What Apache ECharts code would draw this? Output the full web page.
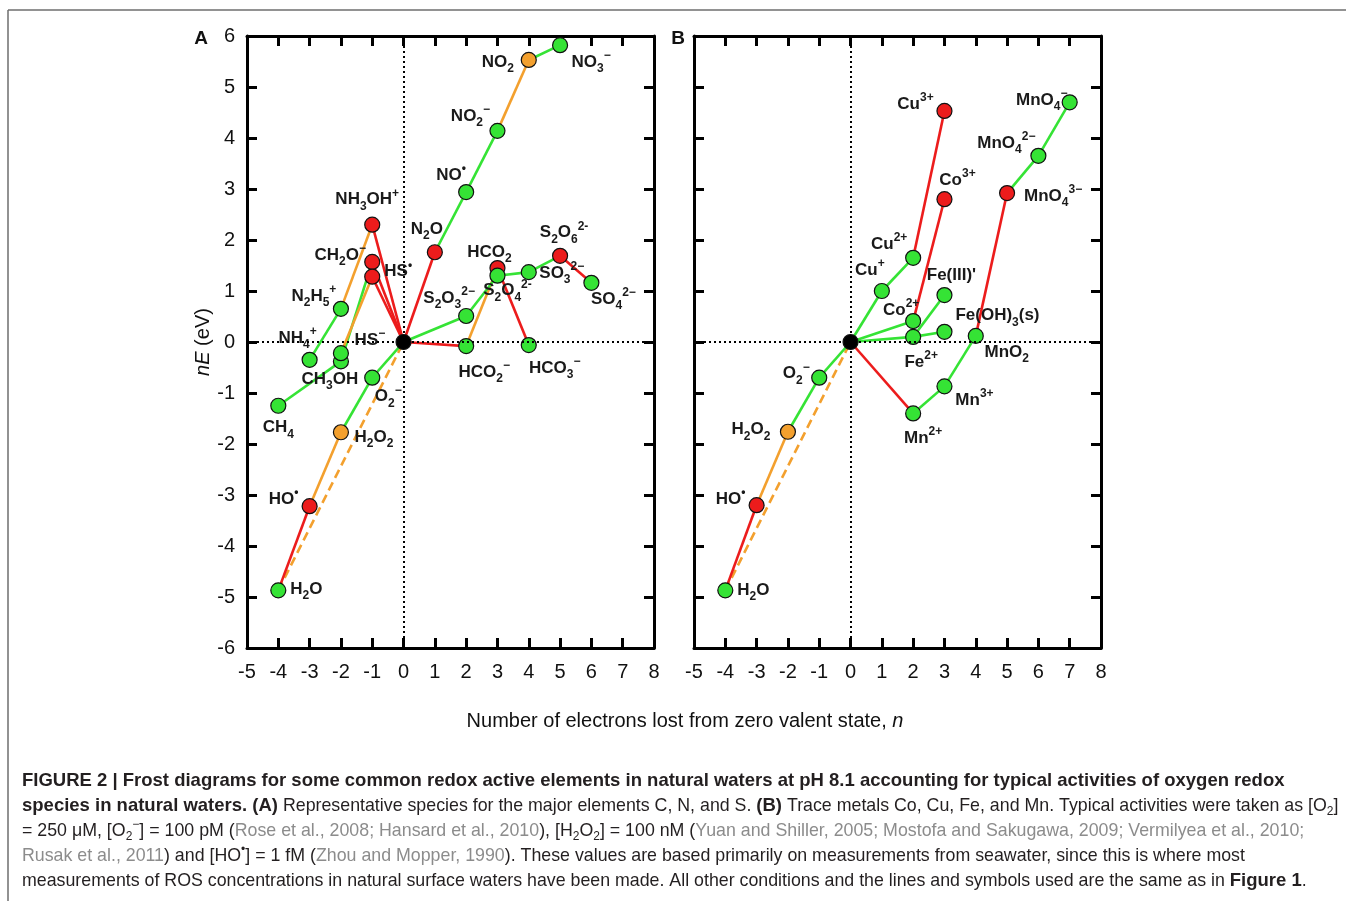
<!DOCTYPE html>
<html>
<head>
<meta charset="utf-8">
<script src="https://cdn.jsdelivr.net/npm/echarts@6/dist/echarts.min.js"></script>
<style>
html, body { margin: 0; padding: 0; background: #fff; }
#main { width: 1346px; height: 901px; }
</style>
</head>
<body>
<div id="main"></div>
<script>
var FONT = '"Liberation Sans", Arial, Helvetica, sans-serif';

// ---- panel A: C, N, S (and the O ladder) ----
var speciesA = ['0', 'CH4', 'CH3OH', 'HS-', 'NH4+', 'N2H5+', 'NH3OH+', 'CH2O-', 'HS.', 'O2-', 'H2O2', 'HO.', 'H2O',
    'N2O', 'NO.', 'NO2-', 'NO2', 'NO3-', 'S2O3', 'HCO2-', 'HCO2', 'S2O4', 'HCO3-', 'SO3', 'S2O6', 'SO4'];
var nA = [0, -4, -2, -2, -3, -2, -1, -1, -1, -1, -2, -3, -4,
    1, 2, 3, 4, 5, 2, 2, 3, 3, 4, 4, 5, 6];
var nEA = [0, -1.25, -0.38, -0.22, -0.35, 0.65, 2.30, 1.57, 1.28, -0.70, -1.77, -3.22, -4.87,
    1.76, 2.94, 4.14, 5.53, 5.82, 0.51, -0.08, 1.45, 1.30, -0.06, 1.37, 1.69, 1.16];
// dot kind: g green, r red, o orange, k origin
var dotA = ['k', 'g', 'g', 'g', 'g', 'g', 'r', 'r', 'r', 'g', 'o', 'r', 'g',
    'r', 'g', 'g', 'o', 'g', 'g', 'g', 'r', 'g', 'g', 'g', 'r', 'g'];
// [from, to, kind]  (d = dashed orange)
var linksA = [
    ['CH4', 'CH3OH', 'g'], ['CH3OH', 'CH2O-', 'g'], ['CH2O-', '0', 'r'], ['0', 'HCO2-', 'r'], ['HCO2-', 'HCO2', 'o'], ['HCO2', 'HCO3-', 'r'],
    ['NH4+', 'N2H5+', 'g'], ['N2H5+', 'NH3OH+', 'o'], ['NH3OH+', '0', 'r'], ['0', 'N2O', 'r'], ['N2O', 'NO.', 'g'], ['NO.', 'NO2-', 'g'], ['NO2-', 'NO2', 'o'], ['NO2', 'NO3-', 'g'],
    ['HS-', 'HS.', 'o'], ['HS.', '0', 'r'], ['0', 'S2O3', 'g'], ['S2O3', 'S2O4', 'g'], ['S2O4', 'SO3', 'g'], ['SO3', 'S2O6', 'g'], ['S2O6', 'SO4', 'r'],
    ['H2O', '0', 'd'], ['H2O', 'HO.', 'r'], ['HO.', 'H2O2', 'o'], ['H2O2', 'O2-', 'g'], ['O2-', '0', 'g']
];

// ---- panel B: Co, Cu, Fe, Mn (and the O ladder) ----
var speciesB = ['0', 'Cu+', 'Cu2+', 'Cu3+', 'Co2+', 'Co3+', 'Fe2+', 'Fe(III)', 'Fe(OH)3', 'Mn2+', 'Mn3+', 'MnO2',
    'MnO4_3', 'MnO4_2', 'MnO4-', 'O2-', 'H2O2', 'HO.', 'H2O'];
var nB = [0, 1, 2, 3, 2, 3, 2, 3, 3, 2, 3, 4, 5, 6, 7, -1, -2, -3, -4];
var nEB = [0, 1.00, 1.65, 4.53, 0.41, 2.80, 0.10, 0.92, 0.20, -1.40, -0.87, 0.12, 2.92, 3.65, 4.70, -0.70, -1.76, -3.20, -4.87];
var dotB = ['k', 'g', 'g', 'r', 'g', 'r', 'g', 'g', 'g', 'g', 'g', 'g', 'r', 'g', 'g', 'g', 'o', 'r', 'g'];
var linksB = [
    ['0', 'Cu+', 'g'], ['Cu+', 'Cu2+', 'g'], ['Cu2+', 'Cu3+', 'r'],
    ['0', 'Co2+', 'g'], ['Co2+', 'Co3+', 'r'],
    ['0', 'Fe2+', 'g'], ['Fe2+', 'Fe(III)', 'g'], ['Fe2+', 'Fe(OH)3', 'g'],
    ['0', 'Mn2+', 'r'], ['Mn2+', 'Mn3+', 'g'], ['Mn3+', 'MnO2', 'g'], ['MnO2', 'MnO4_3', 'r'], ['MnO4_3', 'MnO4_2', 'g'], ['MnO4_2', 'MnO4-', 'g'],
    ['H2O', '0', 'd'], ['H2O', 'HO.', 'r'], ['HO.', 'H2O2', 'o'], ['H2O2', 'O2-', 'g'], ['O2-', '0', 'g']
];

// label text, _{} subscript, ^{} superscript
var labelText = {
    'CH4': 'CH_{4}', 'CH3OH': 'CH_{3}OH', 'HS-': 'HS^{−}', 'NH4+': 'NH_{4}^{+}', 'N2H5+': 'N_{2}H_{5}^{+}',
    'NH3OH+': 'NH_{3}OH^{+}', 'CH2O-': 'CH_{2}O^{−}', 'HS.': 'HS^{•}', 'O2-': 'O_{2}^{−}', 'H2O2': 'H_{2}O_{2}',
    'HO.': 'HO^{•}', 'H2O': 'H_{2}O', 'N2O': 'N_{2}O', 'NO.': 'NO^{•}', 'NO2-': 'NO_{2}^{−}', 'NO2': 'NO_{2}',
    'NO3-': 'NO_{3}^{−}', 'S2O3': 'S_{2}O_{3}^{2−}', 'HCO2-': 'HCO_{2}^{−}', 'HCO2': 'HCO_{2}', 'S2O4': 'S_{2}O_{4}^{2-}',
    'HCO3-': 'HCO_{3}^{−}', 'SO3': 'SO_{3}^{2−}', 'S2O6': 'S_{2}O_{6}^{2-}', 'SO4': 'SO_{4}^{2−}',
    'Cu+': 'Cu^{+}', 'Cu2+': 'Cu^{2+}', 'Cu3+': 'Cu^{3+}', 'Co2+': 'Co^{2+}', 'Co3+': 'Co^{3+}', 'Fe2+': 'Fe^{2+}',
    'Fe(III)': "Fe(III)'", 'Fe(OH)3': 'Fe(OH)_{3}(s)', 'Mn2+': 'Mn^{2+}', 'Mn3+': 'Mn^{3+}', 'MnO2': 'MnO_{2}',
    'MnO4_3': 'MnO_{4}^{3−}', 'MnO4_2': 'MnO_{4}^{2−}', 'MnO4-': 'MnO_{4}^{−}'
};

// label offsets from the dot, px
var offsetA = {
    'NH3OH+': [-5, -25], 'CH2O-': [-32, -7], 'HS.': [26, -5], 'N2H5+': [-27, -13], 'NH4+': [-12, -22],
    'HS-': [29, -13], 'CH3OH': [-11, 18], 'CH4': [0, 22], 'O2-': [16, 19], 'H2O2': [33, 5], 'HO.': [-26, -7],
    'H2O': [28, -1], 'N2O': [-8, -23], 'NO.': [-15, -17], 'NO2-': [-27, -15], 'NO2': [-31, 2], 'NO3-': [31, 17],
    'HCO2': [-8, -16], 'S2O3': [-17, -18], 'S2O4': [10, 15], 'SO3': [33, 1], 'S2O6': [4, -23], 'SO4': [22, 16],
    'HCO2-': [18, 26], 'HCO3-': [26, 23]
};
var offsetB = {
    'Cu3+': [-29, -7], 'Co3+': [13, -19], 'MnO4-': [-28, -2], 'MnO4_2': [-32, -13], 'MnO4_3': [46, 3],
    'Cu2+': [-24, -14], 'Cu+': [-12, -21], 'Fe(III)': [7, -20], 'Co2+': [-12, -11], 'Fe(OH)3': [53, -16],
    'MnO2': [31, 16], 'Fe2+': [8, 25], 'Mn3+': [30, 14], 'Mn2+': [10, 25], 'O2-': [-23, -4], 'H2O2': [-37, -2],
    'HO.': [-26, -6], 'H2O': [28, 0]
};

var colors = {g: '#35e335', r: '#ec1c1c', o: '#f3a02e', k: '#000000'};

function richLabel(markup) {
    var out = '';
    markup.replace(/_\{([^}]*)\}|\^\{([^}]*)\}|([^_^]+)/g, function (m, sub, sup, txt) {
        if (sub !== undefined) out += '{b|' + sub + '}';
        else if (sup !== undefined) out += '{p|' + sup + '}';
        else out += '{t|' + txt + '}';
        return m;
    });
    return out;
}

var labelRich = {
    t: {fontFamily: FONT, fontSize: 17, fontWeight: 'bold', color: '#1a1a1a', lineHeight: 25, verticalAlign: 'middle'},
    b: {fontFamily: FONT, fontSize: 12, fontWeight: 'bold', color: '#1a1a1a', lineHeight: 12, verticalAlign: 'bottom'},
    p: {fontFamily: FONT, fontSize: 12, fontWeight: 'bold', color: '#1a1a1a', lineHeight: 12, verticalAlign: 'top'}
};

function dotData(ids, ns, nEs, dots, offsets) {
    return ids.map(function (id, i) {
        return {
            value: [ns[i], nEs[i]],
            name: id,
            itemStyle: {color: colors[dots[i]]},
            label: id === '0' ? {show: false} : {show: true, formatter: richLabel(labelText[id]), offset: offsets[id] || [0, 0]}
        };
    });
}

function linkData(ids, ns, nEs, links) {
    return links.map(function (l) {
        var a = ids.indexOf(l[0]), b = ids.indexOf(l[1]);
        return {
            coords: [[ns[a], nEs[a]], [ns[b], nEs[b]]],
            lineStyle: {color: l[2] === 'd' ? colors.o : colors[l[2]], type: l[2] === 'd' ? [9, 5] : 'solid'}
        };
    });
}

function xAxisFor(grid, pos) {
    return {
        gridIndex: grid, type: 'value', min: -5, max: 8, interval: 1, position: pos,
        axisLine: {onZero: false, lineStyle: {color: '#000', width: 3}},
        axisTick: {inside: true, length: 10, lineStyle: {color: '#000', width: 3}},
        axisLabel: {show: pos === 'bottom', fontFamily: FONT, fontSize: 20, color: '#111', margin: 14},
        splitLine: {show: false}
    };
}
function yAxisFor(grid, pos, labels) {
    return {
        gridIndex: grid, type: 'value', min: -6, max: 6, interval: 1, position: pos,
        axisLine: {onZero: false, lineStyle: {color: '#000', width: 3}},
        axisTick: {inside: true, length: 10, lineStyle: {color: '#000', width: 3}},
        axisLabel: {show: labels, fontFamily: FONT, fontSize: 20, color: '#111', margin: 12},
        splitLine: {show: false}
    };
}

function panelSeries(k, ids, ns, nEs, dots, links, offsets) {
    return [
        {
            type: 'line', xAxisIndex: 2 * k, yAxisIndex: 2 * k, data: [], silent: true, z: 1,
            markLine: {
                silent: true, symbol: ['none', 'none'], label: {show: false},
                lineStyle: {color: '#000', type: [2, 3], width: 2},
                emphasis: {disabled: true},
                data: [{xAxis: 0}, {yAxis: 0}]
            }
        },
        {
            type: 'lines', coordinateSystem: 'cartesian2d', xAxisIndex: 2 * k, yAxisIndex: 2 * k, silent: true, z: 2,
            lineStyle: {width: 2.6, opacity: 1},
            data: linkData(ids, ns, nEs, links)
        },
        {
            type: 'scatter', xAxisIndex: 2 * k, yAxisIndex: 2 * k, z: 3, symbolSize: 15,
            itemStyle: {borderColor: '#111', borderWidth: 1.2, opacity: 1},
            label: {position: 'inside', align: 'center', verticalAlign: 'middle', rich: labelRich},
            data: dotData(ids, ns, nEs, dots, offsets)
        }
    ];
}

// caption, one entry per printed line
var capRich = {
    b: {fontFamily: FONT, fontSize: 18.5, fontWeight: 'bold', fill: '#231f20', lineHeight: 24, verticalAlign: 'middle'},
    n: {fontFamily: FONT, fontSize: 17.8, fill: '#231f20', lineHeight: 24, verticalAlign: 'middle'},
    g: {fontFamily: FONT, fontSize: 17.8, fill: '#8c8c8c', lineHeight: 24, verticalAlign: 'middle'},
    s: {fontFamily: FONT, fontSize: 12, fill: '#231f20', lineHeight: 12, verticalAlign: 'bottom'},
    u: {fontFamily: FONT, fontSize: 12, fill: '#231f20', lineHeight: 12, verticalAlign: 'top'}
};
var captionLines = [
    [['b', 'FIGURE 2 | Frost diagrams for some common redox active elements in natural waters at pH 8.1 accounting for typical activities of oxygen redox']],
    [['b', 'species in natural waters. (A)'], ['n', ' Representative species for the major elements C, N, and S. '], ['b', '(B)'],
        ['n', ' Trace metals Co, Cu, Fe, and Mn. Typical activities were taken as [O'], ['s', '2'], ['n', ']']],
    [['n', '= 250 μM, [O'], ['s', '2'], ['u', '−'], ['n', '] = 100 pM ('], ['g', 'Rose et al., 2008; Hansard et al., 2010'],
        ['n', '), [H'], ['s', '2'], ['n', 'O'], ['s', '2'], ['n', '] = 100 nM ('],
        ['g', 'Yuan and Shiller, 2005; Mostofa and Sakugawa, 2009; Vermilyea et al., 2010;']],
    [['g', 'Rusak et al., 2011'], ['n', ') and [HO'], ['u', '•'], ['n', '] = 1 fM ('], ['g', 'Zhou and Mopper, 1990'],
        ['n', '). These values are based primarily on measurements from seawater, since this is where most']],
    [['n', 'measurements of ROS concentrations in natural surface waters have been made. All other conditions and the lines and symbols used are the same as in '],
        ['b', 'Figure 1'], ['n', '.']]
];

var graphics = [
    {type: 'line', shape: {x1: 8, y1: 10, x2: 1346, y2: 10}, style: {stroke: '#6e6e6e', lineWidth: 1.5}, silent: true},
    {type: 'line', shape: {x1: 8, y1: 10, x2: 8, y2: 901}, style: {stroke: '#6e6e6e', lineWidth: 1.5}, silent: true},
    {type: 'text', x: 201, y: 39, style: {text: 'A', font: 'bold 19px ' + FONT, fill: '#111', align: 'center', verticalAlign: 'middle'}},
    {type: 'text', x: 678, y: 39, style: {text: 'B', font: 'bold 19px ' + FONT, fill: '#111', align: 'center', verticalAlign: 'middle'}},
    {type: 'text', x: 685, y: 721, style: {
        text: '{r|Number of electrons lost from zero valent state, }{i|n}',
        align: 'center', verticalAlign: 'middle',
        rich: {
            r: {fontFamily: FONT, fontSize: 20, fill: '#111'},
            i: {fontFamily: FONT, fontSize: 20, fontStyle: 'italic', fill: '#111'}
        }
    }}
];
captionLines.forEach(function (parts, i) {
    graphics.push({
        type: 'text', x: 22, y: 781 + 25 * i,
        style: {
            text: parts.map(function (p) { return '{' + p[0] + '|' + p[1] + '}'; }).join(''),
            rich: capRich, verticalAlign: 'middle'
        }
    });
});

var chart = echarts.init(document.getElementById('main'), null, {renderer: 'canvas'});
var option = {
    animation: false,
    backgroundColor: '#ffffff',
    grid: [
        {left: 247, top: 36, width: 407, height: 612},
        {left: 694, top: 36, width: 407, height: 612}
    ],
    xAxis: [xAxisFor(0, 'bottom'), xAxisFor(0, 'top'), xAxisFor(1, 'bottom'), xAxisFor(1, 'top')],
    yAxis: [
        Object.assign(yAxisFor(0, 'left', true), {
            name: '{i|nE} (eV)', nameLocation: 'middle', nameGap: 34, nameRotate: 90,
            nameTextStyle: {fontFamily: FONT, fontSize: 20, color: '#111', rich: {i: {fontFamily: FONT, fontSize: 20, fontStyle: 'italic', color: '#111'}}}
        }),
        yAxisFor(0, 'right', false),
        yAxisFor(1, 'left', false),
        yAxisFor(1, 'right', false)
    ],
    series: panelSeries(0, speciesA, nA, nEA, dotA, linksA, offsetA)
        .concat(panelSeries(1, speciesB, nB, nEB, dotB, linksB, offsetB)),
    graphic: graphics
};
chart.setOption(option);
</script>
</body>
</html>
